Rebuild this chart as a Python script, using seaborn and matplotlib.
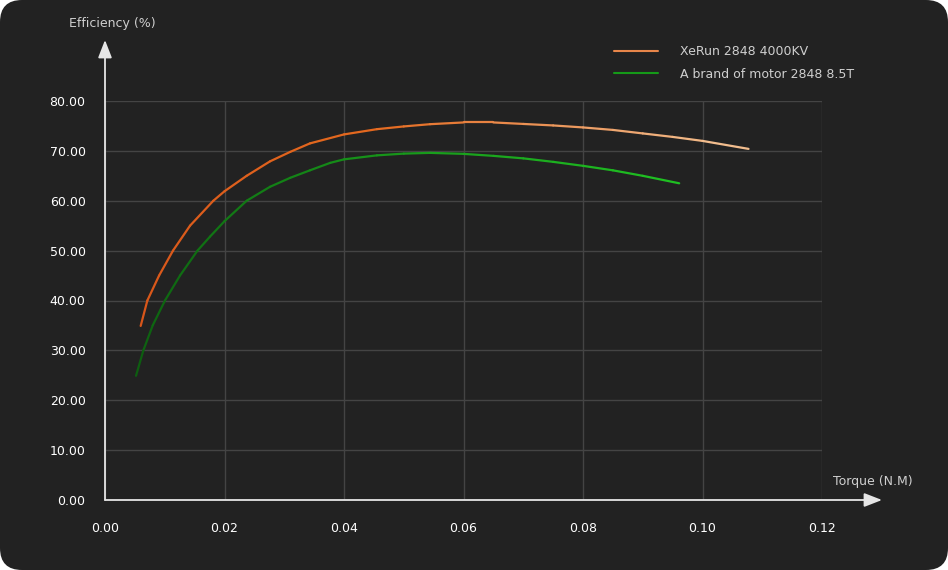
import numpy as np
import pandas as pd
import matplotlib
matplotlib.use("Agg")
import matplotlib.pyplot as plt
import seaborn as sns
from matplotlib.collections import LineCollection
from matplotlib.patches import FancyBboxPatch
from matplotlib.colors import LinearSegmentedColormap
from matplotlib.lines import Line2D

# ---- data ----
series_names = ["XeRun 2848 4000KV", "A brand of motor 2848 8.5T"]
xerun_torque = [0.00597, 0.00709, 0.00905, 0.01138, 0.01423, 0.01813, 0.0200,
                0.02371, 0.02762, 0.0310, 0.0343, 0.0400, 0.0455, 0.0500, 0.0544,
                0.0600, 0.0650, 0.0700, 0.0750, 0.0800, 0.0850, 0.0900, 0.0950,
                0.1000, 0.1077]
xerun_eff = [34.9, 40.0, 45.0, 50.0, 55.0, 60.0, 61.9,
             65.0, 67.9, 69.8, 71.5, 73.3, 74.35, 74.9, 75.35,
             75.7, 75.7, 75.4, 75.1, 74.7, 74.2, 73.5, 72.8,
             72.0, 70.4]
brand_torque = [0.00519, 0.00642, 0.00798, 0.01004, 0.01255, 0.01548, 0.01757,
                0.0200, 0.02371, 0.02762, 0.0310, 0.0343, 0.0377, 0.0400, 0.0455,
                0.0500, 0.0544, 0.0600, 0.0650, 0.0700, 0.0750, 0.0800, 0.0850,
                0.0900, 0.0961]
brand_eff = [24.9, 30.0, 35.0, 40.0, 45.0, 50.0, 52.8,
             55.9, 60.0, 62.8, 64.6, 66.1, 67.6, 68.3, 69.1,
             69.45, 69.6, 69.4, 69.0, 68.5, 67.8, 67.0, 66.1,
             65.0, 63.5]
x_ticks = [0.00, 0.02, 0.04, 0.06, 0.08, 0.10, 0.12]
y_ticks = [0, 10, 20, 30, 40, 50, 60, 70, 80]

df = pd.concat([
    pd.DataFrame({"torque": xerun_torque, "eff": xerun_eff, "motor": series_names[0]}),
    pd.DataFrame({"torque": brand_torque, "eff": brand_eff, "motor": series_names[1]}),
])

BG = "#222222"
sns.set_theme(style="dark")
plt.rcParams["font.family"] = ["DejaVu Sans"]

fig = plt.figure(figsize=(9.48, 5.70), dpi=100)
fig.patch.set_facecolor("white")
W, H = 948, 570
r = 22
fig.patches.append(FancyBboxPatch((0, 0), 1, 1, transform=fig.transFigure,
                                  boxstyle=f"round,pad=0,rounding_size={r / W}",
                                  mutation_aspect=(r / H) / (r / W),
                                  facecolor=BG, edgecolor="none", zorder=-10))

ax = fig.add_axes([105 / W, 1 - 500 / H, (822 - 105) / W, (500 - 101) / H])
ax.set_facecolor(BG)

palette = {series_names[0]: "#e2651f", series_names[1]: "#14901a"}
sns.lineplot(data=df, x="torque", y="eff", hue="motor", palette=palette,
             sort=False, estimator=None, ax=ax, linewidth=1.5, legend=False)

grads = [("#d8561a", "#e4691f", "#f2bd8e"), ("#0d5e10", "#158a18", "#1fbf22")]
for line, cols in zip(ax.lines, grads):
    xy = line.get_xydata()
    segs = np.stack([xy[:-1], xy[1:]], axis=1)
    cmap = LinearSegmentedColormap.from_list("g", list(cols))
    t = np.linspace(0, 1, len(segs))
    lc = LineCollection(segs, colors=cmap(t), linewidths=1.6, capstyle="round",
                        joinstyle="round", zorder=3)
    ax.add_collection(lc)
    line.set_visible(False)

ax.set_xlim(0, 0.12)
ax.set_ylim(0, 80)
ax.set_xticks(x_ticks)
ax.set_yticks(y_ticks)
ax.set_xticklabels([f"{v:.2f}" for v in x_ticks])
ax.set_yticklabels([f"{v:.2f}" for v in y_ticks])
ax.tick_params(axis="both", colors="white", labelsize=9, length=0)
ax.tick_params(axis="y", pad=14)
ax.tick_params(axis="x", pad=16)
ax.grid(True, color="#444444", linewidth=1)
for s in ax.spines.values():
    s.set_visible(False)
ax.set_xlabel("")
ax.set_ylabel("")

# axis arrows
ax.annotate("", xy=(0, (500 - 40) / 399), xytext=(0, 0), xycoords="axes fraction",
            arrowprops=dict(arrowstyle="-|>,head_length=0.9,head_width=0.35",
                            color="#e6e6e6", lw=1.3, shrinkA=0, shrinkB=0),
            annotation_clip=False)
ax.annotate("", xy=((882 - 105) / 717, 0), xytext=(0, 0), xycoords="axes fraction",
            arrowprops=dict(arrowstyle="-|>,head_length=0.9,head_width=0.35",
                            color="#e6e6e6", lw=1.3, shrinkA=0, shrinkB=0),
            annotation_clip=False)

fig.text(69 / W, 1 - 23 / H, "Efficiency (%)", color="#cfcfcf", fontsize=9,
         ha="left", va="center")
fig.text(833 / W, 1 - 482 / H, "Torque (N.M)", color="#cfcfcf", fontsize=9,
         ha="left", va="center")

# legend
handles = [Line2D([], [], color="#e8864a", lw=1.5), Line2D([], [], color="#159a18", lw=1.5)]
leg = fig.legend(handles, series_names, loc="upper left",
                 bbox_to_anchor=(603 / W, 1 - 34 / H), frameon=False,
                 fontsize=9, handlelength=3.5, handletextpad=1.75, labelspacing=0.75)
for t in leg.get_texts():
    t.set_color("#cfcfcf")

fig.savefig("out.png", dpi=100, facecolor=fig.get_facecolor())
